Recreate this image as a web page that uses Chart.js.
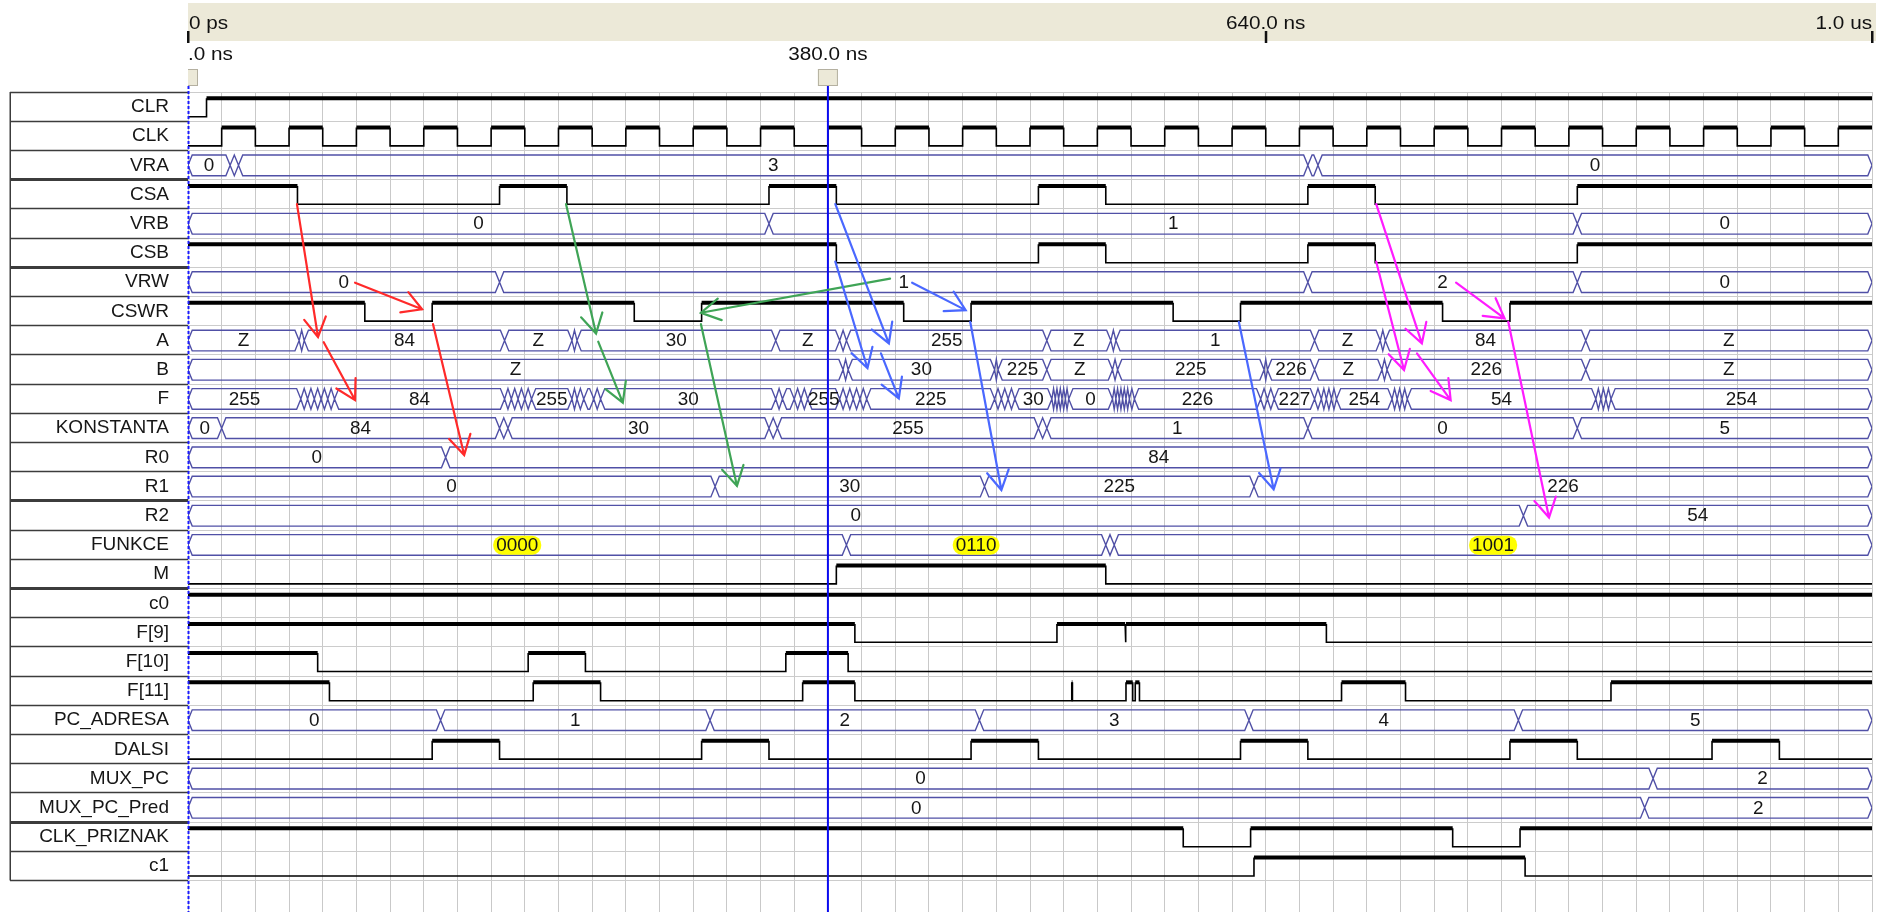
<!DOCTYPE html>
<html>
<head>
<meta charset="utf-8">
<script src="https://cdn.jsdelivr.net/npm/chart.js@4.4.1/dist/chart.umd.min.js"></script>
<style>
  html, body { margin: 0; padding: 0; background: #ffffff; }
  canvas { display: block; }
</style>
</head>
<body>
<canvas id="wave" width="1881" height="912"></canvas>
<script>
// ---- signal list, top to bottom ----
const SIGNAL_NAMES = ['CLR','CLK','VRA','CSA','VRB','CSB','VRW','CSWR','A','B','F','KONSTANTA',
  'R0','R1','R2','FUNKCE','M','c0','F[9]','F[10]','F[11]','PC_ADRESA','DALSI','MUX_PC',
  'MUX_PC_Pred','CLK_PRIZNAK','c1'];

const END_TIME = 1000;   // ns shown
const CURSOR_TIME = 380; // ns
const CURSOR_LABEL = '380.0 ns';
const ORIGIN_LABEL = '0.0 ns';
const RULER_TIMES = [0, 640, 1000];
const RULER_LABELS = ['0 ps', '640.0 ns', '1.0 us'];

// ---- one-bit signals: level at 0 ns and the times (ns) where it flips ----
const CLR_WAVE = { init: 0, toggles: [11] };
const CLK_WAVE = { init: 0, toggles: [20,40,60,80,100,120,140,160,180,200,220,240,260,280,300,320,
  340,360,380,400,420,440,460,480,500,520,540,560,580,600,620,640,660,680,700,720,740,760,780,
  800,820,840,860,880,900,920,940,960,980] };
const CSA_WAVE = { init: 1, toggles: [65,185,225,345,385,505,545,665,705,825] };
const CSB_WAVE = { init: 1, toggles: [385,505,545,665,705,825] };
const CSWR_WAVE = { init: 1, toggles: [105,145,265,305,425,465,585,625,745,785] };
const M_WAVE = { init: 0, toggles: [385,545] };
const C0_WAVE = { init: 1, toggles: [] };
const F9_WAVE = { init: 1, toggles: [396,516,556.5,557,676] };
const F10_WAVE = { init: 1, toggles: [77,202,236,355,392] };
const F11_WAVE = { init: 1, toggles: [84,205,245,365,396,524.8,525.2,557,561,562.5,565,685,723,845] };
const DALSI_WAVE = { init: 0, toggles: [145,185,305,345,465,505,625,665,785,825,905,945] };
const CLK_PRIZNAK_WAVE = { init: 1, toggles: [591,631,751,791] };
const C1_WAVE = { init: 0, toggles: [633,794] };

// ---- buses: [start time (ns), shown value] ----
const VRA_BUS = [[0,'0'],[25,''],[30,'3'],[665,''],[671,'0']];
const VRB_BUS = [[0,'0'],[345,'1'],[825,'0']];
const VRW_BUS = [[0,'0'],[185,'1'],[665,'2'],[825,'0']];
const A_BUS = [[0,'Z'],[66,''],[69,'84'],[188,'Z'],[228,''],[231,'30'],[349,'Z'],[387,''],[391,'255'],
  [510,'Z'],[548,''],[551,'1'],[669,'Z'],[708,''],[711,'84'],[830,'Z']];
const B_BUS = [[0,'Z'],[389,''],[392,'30'],[479,''],[481,'225'],[510,'Z'],[549,''],[552,'225'],
  [639,''],[641,'226'],[669,'Z'],[709,''],[712,'226'],[830,'Z']];
const F_BUS = [[0,'255'],[67,''],[71,''],[75,''],[79,''],[83,''],[87,'84'],[188,''],[192,''],[196,''],
  [200,''],[204,'255'],[228,''],[231,''],[235,''],[241,''],[245,'30'],[349,''],[353,''],[360,''],
  [364,''],[368,'255'],[387,''],[391,''],[395,''],[399,''],[403,'225'],[479,''],[483,''],[487,''],
  [491,'30'],[513,''],[515,''],[517,''],[519,''],[521,''],[523,'0'],[549,''],[551,''],[553,''],
  [555,''],[557,''],[559,''],[562,'226'],[637,''],[641,''],[645,'227'],[669,''],[673,''],[676,''],
  [679,''],[682,'254'],[715,''],[718,''],[721,''],[724,'54'],[836,''],[839,''],[842,''],[845,'254']];
const KONSTANTA_BUS = [[0,'0'],[20,'84'],[185,''],[190,'30'],[345,''],[350,'255'],[505,''],[510,'1'],
  [665,'0'],[825,'5']];
const R0_BUS = [[0,'0'],[153,'84']];
const R1_BUS = [[0,'0'],[313,'30'],[473,'225'],[633,'226']];
const R2_BUS = [[0,'0'],[793,'54']];
const FUNKCE_BUS = [[0,'0000'],[391,'0110'],[545,''],[550,'1001']];
const PC_ADRESA_BUS = [[0,'0'],[150,'1'],[310,'2'],[470,'3'],[630,'4'],[790,'5']];
const MUX_PC_BUS = [[0,'0'],[870,'2']];
const MUX_PC_PRED_BUS = [[0,'0'],[865,'2']];

const BIT_WAVES = {
  'CLR': CLR_WAVE, 'CLK': CLK_WAVE, 'CSA': CSA_WAVE, 'CSB': CSB_WAVE, 'CSWR': CSWR_WAVE,
  'M': M_WAVE, 'c0': C0_WAVE, 'F[9]': F9_WAVE, 'F[10]': F10_WAVE, 'F[11]': F11_WAVE,
  'DALSI': DALSI_WAVE, 'CLK_PRIZNAK': CLK_PRIZNAK_WAVE, 'c1': C1_WAVE
};
const BUS_WAVES = {
  'VRA': VRA_BUS, 'VRB': VRB_BUS, 'VRW': VRW_BUS, 'A': A_BUS, 'B': B_BUS, 'F': F_BUS,
  'KONSTANTA': KONSTANTA_BUS, 'R0': R0_BUS, 'R1': R1_BUS, 'R2': R2_BUS, 'FUNKCE': FUNKCE_BUS,
  'PC_ADRESA': PC_ADRESA_BUS, 'MUX_PC': MUX_PC_BUS, 'MUX_PC_Pred': MUX_PC_PRED_BUS
};
const HIGHLIGHTED_BUSES = ['FUNKCE'];

// ---- hand-drawn cause/effect arrows: [t0, row0, t1, row1] ----
const ARROWS_RED = [
  [64.7, 3.84, 77.2, 8.39], [80.6, 8.57, 99.2, 10.55], [99.2, 6.53, 139.0, 7.44], [145.5, 7.95, 164.0, 12.43]
];
const ARROWS_GREEN = [
  [224.5, 3.84, 242.3, 8.27], [243.6, 8.55, 258.2, 10.64], [416.9, 6.39, 304.6, 7.56], [304.6, 7.95, 326.0, 13.49]
];
const ARROWS_BLUE = [
  [384.4, 3.84, 416.2, 8.61], [384.4, 5.81, 403.5, 9.46], [411.5, 8.95, 422.1, 10.49],
  [430.0, 6.53, 461.8, 7.47], [464.5, 7.87, 483.0, 13.63], [624.0, 7.87, 644.7, 13.61]
];
const ARROWS_MAGENTA = [
  [705.6, 3.84, 732.7, 8.61], [705.6, 5.81, 722.1, 9.52], [729.8, 8.95, 749.8, 10.55],
  [753.0, 6.53, 781.8, 7.75], [784.0, 7.87, 808.2, 14.57]
];
const ARROW_SETS = [
  { color: '#ff2a2a', list: ARROWS_RED },
  { color: '#3fa456', list: ARROWS_GREEN },
  { color: '#4a68ff', list: ARROWS_BLUE },
  { color: '#ff1cff', list: ARROWS_MAGENTA }
];

// ---- drawing styles (fractions of a row) ----
const HIGH_Y = 0.215, LOW_Y = 0.845;
const BUS_TOP = 0.157, BUS_BOT = 0.866, BUS_MID = 0.512;
const BUS_EDGE = 2.5;       // half width of a bus crossing, ns
const THICK_EDGES = [3, 6, 14, 17, 25];
const ROW_EDGES = SIGNAL_NAMES.map((_, i) => i).concat([SIGNAL_NAMES.length]);
const FONT = '"Liberation Sans", Arial, sans-serif';
const BUS_COLOR = '#5050a6';

function bitDataset(wave, row) {
  const hi = row + HIGH_Y, lo = row + LOW_Y;
  let level = wave.init;
  const pts = [{ x: 0, y: level ? hi : lo }];
  wave.toggles.forEach(t => {
    pts.push({ x: t, y: level ? hi : lo });
    level = 1 - level;
    pts.push({ x: t, y: level ? hi : lo });
  });
  pts.push({ x: END_TIME, y: level ? hi : lo });
  return {
    label: SIGNAL_NAMES[row],
    data: pts,
    borderColor: '#000000',
    borderWidth: 1.5,
    pointRadius: 0,
    fill: false,
    segment: {
      borderWidth: c => (Math.abs(c.p0.parsed.y - c.p1.parsed.y) < 1e-9 && Math.abs(c.p0.parsed.y - hi) < 1e-9) ? 4 : 1.6
    }
  };
}

function busDataset(bus, row) {
  const top = row + BUS_TOP, bot = row + BUS_BOT, mid = row + BUS_MID;
  const pts = [];
  bus.forEach((seg, i) => {
    const t0 = seg[0];
    const t1 = i + 1 < bus.length ? bus[i + 1][0] : END_TIME;
    const d = Math.min(BUS_EDGE, (t1 - t0) / 2);
    pts.push({ x: t0, y: mid }, { x: t0 + d, y: top }, { x: t1 - d, y: top }, { x: t1, y: mid },
             { x: t1 - d, y: bot }, { x: t0 + d, y: bot }, { x: t0, y: mid }, { x: t1, y: null });
  });
  return {
    label: SIGNAL_NAMES[row],
    data: pts,
    borderColor: BUS_COLOR,
    borderWidth: 1.4,
    pointRadius: 0,
    fill: false,
    spanGaps: false
  };
}

const datasets = SIGNAL_NAMES.map((name, row) =>
  BIT_WAVES[name] ? bitDataset(BIT_WAVES[name], row) : busDataset(BUS_WAVES[name], row));

function stretchedText(ctx, str, px, py, align, sx) {
  ctx.save();
  ctx.translate(px, py);
  ctx.scale(sx, 1);
  ctx.textAlign = align;
  ctx.fillText(str, 0, 0);
  ctx.restore();
}

const waveDecor = {
  id: 'waveDecor',
  beforeDraw(chart) {
    const { ctx, scales: { x, y } } = chart;
    ctx.save();
    ctx.fillStyle = '#ffffff';
    ctx.fillRect(0, 0, chart.width, chart.height);

    // time ruler
    const xs = x.getPixelForValue(0), xe = x.getPixelForValue(END_TIME);
    ctx.fillStyle = '#ece9d8';
    ctx.fillRect(xs, 3, xe - xs + 4, 38);
    ctx.fillStyle = '#111111';
    ctx.font = '18px ' + FONT;
    ctx.textBaseline = 'middle';
    RULER_TIMES.forEach((t, i) => {
      const px = x.getPixelForValue(t);
      const align = i === 0 ? 'left' : (i === RULER_TIMES.length - 1 ? 'right' : 'center');
      stretchedText(ctx, RULER_LABELS[i], align === 'left' ? px + 1 : px, 24, align, 1.15);
      ctx.fillRect(px - 1, 31, 2.5, 12);
    });

    // cursor labels
    const cx = x.getPixelForValue(CURSOR_TIME);
    stretchedText(ctx, CURSOR_LABEL, cx, 55, 'center', 1.15);
    ctx.save();
    ctx.beginPath();
    ctx.rect(xs, 44, 400, 30);
    ctx.clip();
    const zeroW = ctx.measureText('0').width * 1.15;
    stretchedText(ctx, ORIGIN_LABEL, xs - zeroW, 55, 'left', 1.15);
    ctx.restore();

    // cursor handles
    [[cx, false], [xs, true]].forEach(([hx, clip]) => {
      ctx.save();
      if (clip) { ctx.beginPath(); ctx.rect(xs, 60, 40, 30); ctx.clip(); }
      ctx.fillStyle = '#ece9d8';
      ctx.fillRect(hx - 10, 69, 20, 17);
      ctx.strokeStyle = '#b4b0a0';
      ctx.lineWidth = 1;
      ctx.strokeRect(hx - 9.5, 69.5, 19, 16);
      ctx.restore();
    });

    // left border of the name panel
    const yTop = y.getPixelForValue(0), yBot = y.getPixelForValue(SIGNAL_NAMES.length);
    ctx.fillStyle = '#3c3c3c';
    ctx.fillRect(chart.scales.y.left - 0.5, yTop, 1.5, yBot - yTop);
    ctx.restore();
  },
  afterDatasetsDraw(chart) {
    const { ctx, scales: { x, y } } = chart;
    ctx.save();
    // bus values
    ctx.font = '18px ' + FONT;
    ctx.textBaseline = 'middle';
    ctx.textAlign = 'center';
    Object.keys(BUS_WAVES).forEach(name => {
      const row = SIGNAL_NAMES.indexOf(name);
      const bus = BUS_WAVES[name];
      const py = y.getPixelForValue(row + 0.52);
      bus.forEach((seg, i) => {
        if (!seg[1]) return;
        const t1 = i + 1 < bus.length ? bus[i + 1][0] : END_TIME;
        const px = x.getPixelForValue((seg[0] + t1) / 2);
        if (HIGHLIGHTED_BUSES.includes(name)) {
          const w = ctx.measureText(seg[1]).width;
          ctx.fillStyle = '#ffff00';
          ctx.beginPath();
          ctx.roundRect(px - w / 2 - 4, py - 9.5, w + 8, 19, 9);
          ctx.fill();
        }
        ctx.fillStyle = '#161616';
        stretchedText(ctx, seg[1], px, py + 0.5, 'center', 1.05);
      });
    });

    // time cursors
    const top = 86, bottom = chart.height;
    const x0 = x.getPixelForValue(0);
    ctx.strokeStyle = '#1a1aff';
    ctx.lineWidth = 2;
    ctx.setLineDash([3, 2]);
    ctx.beginPath(); ctx.moveTo(x0 + 0.5, top); ctx.lineTo(x0 + 0.5, bottom); ctx.stroke();
    ctx.setLineDash([]);
    const cx = x.getPixelForValue(CURSOR_TIME);
    ctx.strokeStyle = '#0a0aee';
    ctx.beginPath(); ctx.moveTo(cx, top); ctx.lineTo(cx, bottom); ctx.stroke();
    ctx.restore();
  },
  afterDraw(chart) {
    const { ctx, scales: { x, y } } = chart;
    ctx.save();
    ctx.lineWidth = 2.2;
    ctx.lineCap = 'round';
    ARROW_SETS.forEach(set => {
      ctx.strokeStyle = set.color;
      set.list.forEach(([t0, r0, t1, r1]) => {
        const ax = x.getPixelForValue(t0), ay = y.getPixelForValue(r0);
        const bx = x.getPixelForValue(t1), by = y.getPixelForValue(r1);
        const ang = Math.atan2(by - ay, bx - ax);
        const len = 22, spread = 0.52;
        ctx.beginPath();
        ctx.moveTo(ax, ay); ctx.lineTo(bx, by);
        ctx.moveTo(bx - len * Math.cos(ang - spread), by - len * Math.sin(ang - spread));
        ctx.lineTo(bx, by);
        ctx.lineTo(bx - len * Math.cos(ang + spread), by - len * Math.sin(ang + spread));
        ctx.stroke();
      });
    });
    ctx.restore();
  }
};

new Chart(document.getElementById('wave'), {
  type: 'line',
  data: { datasets },
  plugins: [waveDecor],
  options: {
    responsive: false,
    animation: false,
    events: [],
    layout: { padding: { left: 10, top: 92, right: 9, bottom: 0 } },
    plugins: { legend: { display: false }, tooltip: { enabled: false }, title: { display: false } },
    elements: { point: { radius: 0 }, line: { tension: 0 } },
    scales: {
      x: {
        type: 'linear', min: 0, max: END_TIME, position: 'bottom',
        ticks: { display: false, stepSize: 20, maxTicksLimit: 60 },
        grid: { color: '#c9c9c9', lineWidth: 1, drawTicks: false },
        border: { display: false },
        afterFit: s => { s.height = 0; }
      },
      y: {
        type: 'linear', min: 0, max: 28.08, reverse: true, position: 'left',
        afterBuildTicks: s => { s.ticks = ROW_EDGES.map(v => ({ value: v })); },
        afterFit: s => { s.width = 178; },
        ticks: {
          autoSkip: false, padding: -159, labelOffset: 15, crossAlign: 'near',
          color: '#161616', font: { family: FONT, size: 19 },
          callback: v => SIGNAL_NAMES[v] ?? ''
        },
        grid: {
          color: '#cccccc', lineWidth: 1, tickLength: 178, tickColor: '#3c3c3c',
          tickWidth: c => (c.tick && THICK_EDGES.includes(c.tick.value)) ? 3 : 1.5
        },
        border: { display: false }
      }
    }
  }
});
</script>
</body>
</html>
